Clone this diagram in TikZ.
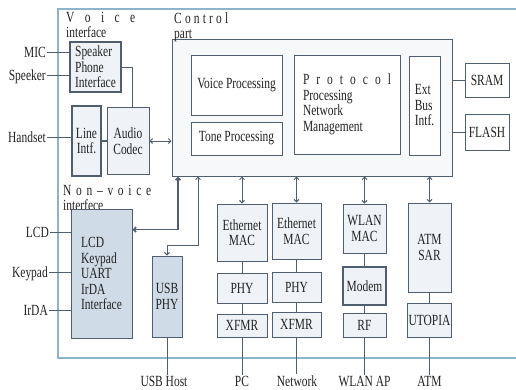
\documentclass[tikz,border=0pt]{standalone}
\usepackage{fontspec}
\setmainfont{Liberation Serif}[FakeStretch=0.74]
\usetikzlibrary{arrows.meta}
\definecolor{edge}{HTML}{4F5F6F}
\definecolor{boxfill}{HTML}{EFF3F7}
\definecolor{bluefill}{HTML}{CFDCE7}
\definecolor{ctrlfill}{HTML}{F6F8FA}
\definecolor{frame}{HTML}{8DB4C8}
\definecolor{ink}{HTML}{222222}
\begin{document}
\begin{tikzpicture}[x=1pt, y=-1pt,
  every node/.style={font=\fontsize{15.5}{15.5}\selectfont, text=ink},
  box/.style={draw=edge, fill=boxfill, line width=1pt, inner sep=1pt, align=center},
  shadedbox/.style={box, fill=bluefill},
  lab/.style={inner sep=1pt},
  head/.style={inner sep=0pt, anchor=base west},
  side/.style={inner sep=1pt, text height=10pt, text depth=0pt, anchor=east},
  link/.style={draw=edge, line width=0.9pt},
  >={Straight Barb[length=2.5pt,width=5pt]}
]
\useasboundingbox (0,0) rectangle (516,389);
\draw[frame, line width=1.2pt] (516,9) -- (58,9) -- (58,358) -- (516,358);

% voice interface
\node[head] (vlab) at (66,22) {\makebox[69pt][s]{V\hfil o\hfil i\hfil c\hfil e}};
\node[head] (vlab2) at (66,37.5) {interface};
\node[box, line width=1.4pt, minimum width=51pt, minimum height=50pt, align=left] (spk) at (95.5,67) {Speaker\\Phone\\Interface};
\node[box, line width=1.4pt, minimum width=29pt, minimum height=70pt] (line) at (86.5,141) {Line\\Intf.};
\node[box, minimum width=42pt, minimum height=67pt] (codec) at (128,141) {Audio\\Codec};

% control part
\node[box, fill=ctrlfill, minimum width=280pt, minimum height=137pt] (ctrl) at (312,107.5) {};
\node[head] (clab) at (174,23) {\makebox[54pt][s]{C\hfil o\hfil n\hfil t\hfil r\hfil o\hfil l}};
\node[head] (clab2) at (174,38.5) {part};
\node[box, fill=white, minimum width=91pt, minimum height=60pt] (voice) at (236.5,85) {Voice Processing};
\node[box, fill=white, minimum width=91pt, minimum height=33pt] (tone) at (236.5,138.5) {Tone Processing};
\node[box, fill=white, minimum width=106pt, minimum height=99pt, align=left] (proto) at (347,104.5)
  {\makebox[88pt][s]{P\hfil r\hfil o\hfil t\hfil o\hfil c\hfil o\hfil l}\\Processing\\Network\\Management};
\node[box, fill=white, minimum width=31pt, minimum height=99pt, align=left] (ext) at (424.5,105.5) {Ext\\Bus\\Intf.};
\node[box, fill=white, minimum width=44pt, minimum height=34pt] (sram) at (487,80) {SRAM};
\node[box, fill=white, minimum width=44pt, minimum height=36pt] (flash) at (487,132) {FLASH};

% non-voice interface
\node[head] (nlab) at (63,195) {\makebox[88pt][s]{N\hfil o\hfil n\hfil –\hfil v\hfil o\hfil i\hfil c\hfil e}};
\node[head] (nlab2) at (63,210.5) {interfece};
\node[shadedbox, minimum width=61pt, minimum height=129pt, align=left] (lcdbox) at (101.5,273.5) {LCD\\Keypad\\UART\\IrDA\\Interface};
\node[shadedbox, minimum width=30pt, minimum height=81pt] (usb) at (167,296.5) {USB\\PHY};

% network blocks
\node[box, minimum width=50pt, minimum height=57pt] (emac1) at (242,232.5) {Ethernet\\MAC};
\node[box, minimum width=50pt, minimum height=30pt] (phy1) at (242,288) {PHY};
\node[box, minimum width=50pt, minimum height=23pt] (xfmr1) at (242,325.5) {XFMR};
\node[box, minimum width=49pt, minimum height=56pt] (emac2) at (296.5,231) {Ethernet\\MAC};
\node[box, minimum width=49pt, minimum height=30pt] (phy2) at (296.5,287) {PHY};
\node[box, minimum width=49pt, minimum height=25pt] (xfmr2) at (296.5,324.5) {XFMR};
\node[box, minimum width=43pt, minimum height=49pt] (wmac) at (364.5,228.5) {WLAN\\MAC};
\node[box, line width=1.4pt, minimum width=43pt, minimum height=38pt] (modem) at (364.5,286) {Modem};
\node[box, minimum width=43pt, minimum height=24pt] (rf) at (364.5,325) {RF};
\node[box, minimum width=43pt, minimum height=89pt] (atmsar) at (429.5,247.5) {ATM\\SAR};
\node[box, minimum width=43pt, minimum height=34pt] (utopia) at (429.5,320) {UTOPIA};

% outside labels
\node[side] (mic) at (47,52) {MIC};
\node[side] (spkr) at (47,75) {Speeker};
\node[side] (hset) at (47,137) {Handset};
\node[side] (lcd) at (50,232) {LCD};
\node[side] (keypad) at (49,272) {Keypad};
\node[side] (irda) at (49,310) {IrDA};
\node[lab, anchor=base] (host) at (164,386) {USB Host};
\node[lab, anchor=base] (pc) at (242,386) {PC};
\node[lab, anchor=base] (net) at (297,386) {Network};
\node[lab, anchor=base] (ap) at (364.5,386) {WLAN AP};
\node[lab, anchor=base] (atm) at (429.5,386) {ATM};

% connectors
\draw[link] (mic.east) -- (mic.east -| spk.west);
\draw[link] (spkr.east) -- (spkr.east -| spk.west);
\draw[link] (hset.east) -- (hset.east -| line.west);
\draw[link] (lcd.east) -- (lcd.east -| lcdbox.west);
\draw[link] (keypad.east) -- (keypad.east -| lcdbox.west);
\draw[link] (irda.east) -- (irda.east -| lcdbox.west);
\draw[link] (spk.east) -| ([xshift=4pt]codec.north);
\draw[link, line width=1.6pt] (line) -- (codec);
\draw[link, <->] (codec.east) -- (codec.east -| ctrl.west);
\draw[link] (sram.west) -- (sram.west -| ctrl.east);
\draw[link] (flash.west) -- (flash.west -| ctrl.east);
\draw[link, line width=1.6pt, <->] (ctrl.south -| 178,0) |- ([yshift=44pt]lcdbox.east);
\draw[link, <->] (ctrl.south -| 198,0) -- (198,245) -| (usb.north);
\foreach \blk in {emac1,emac2,wmac,atmsar}
  \draw[link, <->] (\blk.north) -- (\blk.north |- ctrl.south);
\draw[link] (emac1) -- (phy1);
\draw[link] (phy1) -- (xfmr1);
\draw[link] (emac2) -- (phy2);
\draw[link] (phy2) -- (xfmr2);
\draw[link] (wmac) -- (modem);
\draw[link] (modem) -- (rf);
\draw[link] (atmsar) -- (utopia);
\draw[link] (usb.south) -- (host.north -| usb.south);
\draw[link] (xfmr1) -- (pc);
\draw[link] (xfmr2.south) -- (xfmr2.south |- net.north);
\draw[link] (rf) -- (ap);
\draw[link] (utopia) -- (atm);
\end{tikzpicture}
\end{document}
